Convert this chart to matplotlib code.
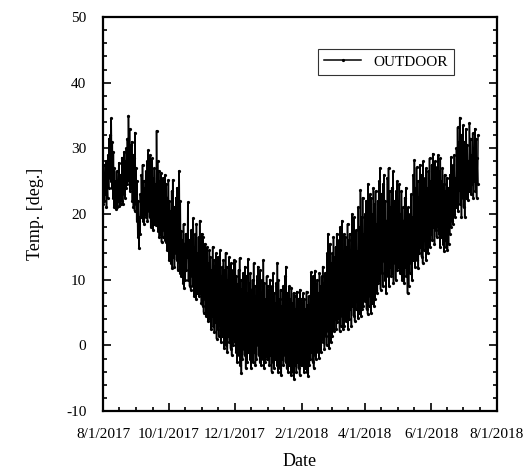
import datetime as dt
import numpy as np
import matplotlib
matplotlib.use("Agg")
import matplotlib.pyplot as plt
import matplotlib.dates as mdates
from matplotlib.ticker import MultipleLocator, FuncFormatter

plt.rcParams["font.family"] = ["Liberation Serif", "DejaVu Serif"]
plt.rcParams["axes.unicode_minus"] = False

start_date = dt.datetime(2017, 8, 1)

# daily highs / lows, month by month
hi_aug = [27.5, 26.0, 28.0, 25.5, 29.0, 31.5, 32.0, 34.6, 31.0, 29.5, 27.0, 25.0, 26.5, 24.5, 27.8, 26.0,
          25.0, 28.6, 27.0, 29.5, 28.0, 30.0, 31.5, 35.0, 33.0, 30.5, 31.0, 29.0, 28.5, 32.4, 27.0]
lo_aug = [21.5, 22.0, 23.0, 21.0, 22.5, 24.0, 25.5, 25.0, 24.0, 22.5, 21.0, 21.5, 20.8, 21.0, 22.0, 21.2,
          21.5, 22.0, 21.6, 23.0, 22.5, 24.0, 24.5, 26.0, 25.0, 23.5, 24.0, 22.0, 21.0, 20.5, 21.5]
hi_sep = [25.0, 22.0, 19.5, 23.0, 26.0, 27.5, 25.0, 24.0, 26.5, 28.0, 29.7, 27.0, 29.0, 26.0, 28.5,
          25.5, 27.0, 24.5, 32.7, 28.0, 26.6, 25.0, 26.2, 24.0, 25.5, 23.0, 26.0, 24.5, 22.5, 25.2]
lo_sep = [19.0, 16.5, 14.9, 17.0, 19.5, 20.0, 19.0, 18.5, 20.0, 19.5, 19.0, 20.5, 19.5, 18.0, 19.0,
          17.5, 18.5, 19.0, 18.3, 20.0, 17.4, 16.5, 17.0, 15.7, 16.5, 17.5, 16.0, 15.8, 14.5, 15.0]
hi_oct = [22.0, 20.5, 23.5, 25.2, 21.0, 19.5, 22.5, 24.0, 20.0, 26.6, 22.0, 17.4, 16.0, 18.5, 15.5, 17.0,
          14.5, 21.8, 16.0, 15.0, 17.5, 16.5, 19.4, 15.0, 17.0, 18.5, 14.0, 16.5, 19.0, 15.5, 17.0]
lo_oct = [13.0, 14.5, 12.5, 11.8, 13.5, 12.0, 14.0, 13.0, 11.5, 12.7, 11.0, 10.5, 12.0, 9.5, 8.8, 10.0,
          11.5, 13.4, 10.0, 9.0, 8.5, 10.5, 9.0, 7.5, 8.8, 7.0, 8.0, 9.5, 7.5, 8.0, 6.5]
hi_nov = [16.5, 14.0, 15.5, 13.0, 15.0, 12.5, 14.5, 13.5, 11.5, 15.0, 13.0, 12.0, 14.0, 11.0, 13.5,
          12.5, 14.5, 10.5, 12.0, 13.0, 11.5, 14.1, 12.0, 10.0, 13.4, 11.0, 12.5, 9.5, 11.5, 13.0]
lo_nov = [6.0, 5.0, 7.0, 4.5, 5.7, 3.7, 5.0, 4.0, 2.5, 4.5, 3.0, 2.0, 3.5, 1.0, 2.5,
          1.5, 3.0, 0.5, 1.5, 2.0, -0.4, 1.0, 0.0, -1.0, 1.5, 0.5, -0.5, -1.5, 0.0, 1.0]
hi_dec = [12.9, 10.5, 9.4, 11.5, 13.3, 10.0, 8.5, 11.0, 9.5, 12.0, 10.5, 8.0, 13.2, 9.5, 11.0, 8.5,
          10.0, 12.5, 9.0, 7.5, 10.5, 12.0, 9.0, 11.5, 8.0, 10.0, 13.0, 9.5, 7.0, 10.5, 9.0]
lo_dec = [0.5, -1.0, -2.5, 0.0, -1.5, -3.0, -4.2, -2.0, -0.5, -1.5, -3.5, -2.5, -1.0, -0.3, -2.0, -3.4,
          -1.3, -2.5, -1.0, -3.0, -2.0, 0.0, -1.5, -2.5, -3.0, -1.0, -2.0, -3.5, -2.5, -1.0, -2.0]
hi_jan = [8.5, 10.0, 7.5, 9.0, 11.0, 8.0, 6.5, 9.5, 12.6, 10.0, 7.0, 8.5, 6.0, 9.0, 7.5, 10.5,
          12.0, 8.0, 6.5, 9.0, 7.0, 8.8, 6.5, 8.0, 7.5, 5.5, 8.2, 7.0, 6.0, 8.5, 7.0]
lo_jan = [-2.0, -3.0, -1.5, -4.0, -2.5, -3.5, -2.0, -1.0, -3.0, -4.0, -2.5, -3.5, -4.5, -2.0, -3.0, -1.5,
          -2.5, -3.5, -4.0, -3.0, -2.0, -4.5, -3.5, -4.0, -5.1, -3.0, -4.0, -2.5, -3.5, -4.5, -3.0]
hi_feb = [6.5, 8.0, 7.0, 5.5, 8.2, 6.2, 7.5, 6.0, 11.1, 9.5, 10.5, 8.5, 11.4, 9.4,
          10.0, 8.0, 11.0, 9.0, 10.5, 12.0, 9.5, 11.0, 10.0, 14.0, 17.0, 13.4, 15.5, 12.5]
lo_feb = [-3.0, -2.0, -4.0, -3.5, -2.5, -4.0, -4.7, -3.0, -2.0, -1.0, -2.5, -3.4, -1.5, -2.0,
          -0.5, -1.0, -1.9, 0.0, -1.0, 1.0, 0.5, -0.5, 1.5, 0.0, 2.2, -0.4, 1.5, 0.5]
hi_mar = [14.0, 16.5, 13.5, 15.0, 17.0, 14.5, 16.0, 18.0, 15.5, 19.0, 14.4, 17.0, 16.5, 15.0, 18.5, 16.0,
          17.0, 14.4, 20.0, 16.5, 19.5, 15.0, 17.5, 14.4, 21.0, 18.0, 23.6, 19.5, 22.5, 17.0, 20.0]
lo_mar = [1.5, 3.0, 2.2, 4.0, 2.5, 3.5, 4.2, 2.2, 3.0, 4.5, 2.5, 3.0, 5.0, 3.7, 4.5, 2.5,
          4.0, 5.5, 3.0, 6.0, 4.5, 3.7, 5.5, 6.8, 4.2, 5.0, 6.5, 4.5, 5.5, 6.0, 7.0]
hi_apr = [22.0, 19.5, 24.6, 21.0, 23.0, 22.5, 20.0, 24.0, 21.5, 23.5, 18.5, 22.0, 25.0, 27.0, 23.0,
          20.5, 24.6, 26.0, 22.0, 19.0, 25.5, 27.0, 23.5, 21.0, 24.0, 26.5, 22.0, 20.0, 23.5, 25.0]
lo_apr = [6.8, 5.5, 4.8, 6.0, 7.5, 5.0, 6.5, 8.0, 6.0, 7.0, 8.5, 7.9, 9.5, 10.0, 8.5,
          11.0, 9.0, 12.9, 10.0, 8.0, 11.5, 10.5, 9.0, 12.0, 10.5, 11.0, 9.5, 12.5, 10.0, 11.5]
hi_may = [22.0, 24.6, 20.0, 23.5, 21.0, 19.0, 22.5, 24.0, 18.5, 21.0, 17.5, 20.0, 23.0, 19.5, 26.0, 28.2,
          24.0, 27.1, 25.0, 22.5, 27.5, 24.5, 26.0, 28.0, 23.5, 25.5, 27.0, 24.0, 26.5, 28.5, 25.0]
lo_may = [12.0, 13.5, 11.0, 12.5, 10.0, 11.5, 9.5, 12.0, 10.5, 7.9, 9.0, 11.0, 12.5, 10.0, 13.0, 14.5,
          12.0, 15.5, 13.0, 11.8, 14.0, 15.0, 13.5, 12.5, 14.5, 16.0, 13.0, 15.0, 14.0, 16.5, 15.0]
hi_jun = [27.5, 29.2, 26.0, 28.0, 25.5, 27.1, 29.0, 26.5, 28.5, 25.0, 27.0, 24.5, 26.0, 23.5, 25.5,
          24.0, 22.5, 26.0, 28.7, 26.3, 27.5, 29.0, 25.5, 30.0, 33.2, 31.0, 34.7, 32.0, 30.5, 33.5]
lo_jun = [17.0, 16.0, 18.0, 15.5, 17.5, 16.5, 18.0, 17.0, 15.0, 16.5, 17.0, 15.5, 14.4, 16.0, 15.0,
          14.5, 15.5, 17.0, 18.0, 19.0, 18.5, 20.0, 19.5, 21.0, 22.0, 20.5, 23.6, 21.5, 19.5, 22.5]
hi_jul = [31.0, 29.5, 33.0, 30.5, 28.0, 33.8, 31.5, 29.0, 32.3, 30.0, 33.0, 31.5, 28.5, 32.0]
lo_jul = [21.0, 19.5, 22.5, 24.0, 22.1, 23.5, 25.1, 23.0, 24.5, 22.5, 25.0, 23.5, 22.5, 24.5]

daily_hi = (hi_aug + hi_sep + hi_oct + hi_nov + hi_dec + hi_jan
            + hi_feb + hi_mar + hi_apr + hi_may + hi_jun + hi_jul)
daily_lo = (lo_aug + lo_sep + lo_oct + lo_nov + lo_dec + lo_jan
            + lo_feb + lo_mar + lo_apr + lo_may + lo_jun + lo_jul)

# low early morning, high mid afternoon
times = []
temps = []
for i, (lo, hi) in enumerate(zip(daily_lo, daily_hi)):
    day = start_date + dt.timedelta(days=i)
    times.append(day + dt.timedelta(hours=5))
    temps.append(lo)
    times.append(day + dt.timedelta(hours=14))
    temps.append(hi)

fig = plt.figure(figsize=(5.23, 4.73), dpi=100)
ax = fig.add_axes([0.197, 0.131, 0.753, 0.833])

ax.plot(times, temps, color="black", lw=1.1, marker="o", ms=1.3, label="OUTDOOR")

ax.set_xlim(dt.datetime(2017, 8, 1), dt.datetime(2018, 8, 1))
ax.set_ylim(-10, 50)

ax.xaxis.set_major_locator(mdates.MonthLocator(bymonth=[2, 4, 6, 8, 10, 12]))
ax.xaxis.set_minor_locator(mdates.DayLocator(bymonthday=[1, 16]))
ax.xaxis.set_major_formatter(FuncFormatter(
    lambda v, pos: "%d/%d/%d" % (mdates.num2date(v).month, mdates.num2date(v).day, mdates.num2date(v).year)))
ax.yaxis.set_major_locator(MultipleLocator(10))
ax.yaxis.set_minor_locator(MultipleLocator(2))

ax.tick_params(which="both", direction="in", top=False, right=True, width=1.2)
ax.tick_params(which="major", length=6, labelsize=11, pad=12)
ax.tick_params(which="minor", length=3)
for s in ax.spines.values():
    s.set_linewidth(1.6)

ax.set_xlabel("Date", fontsize=13, labelpad=9)
ax.set_ylabel("Temp. [deg.]", fontsize=13, labelpad=16)

leg = ax.legend(loc="upper right", bbox_to_anchor=(0.891, 0.919), borderaxespad=0,
                fancybox=False, edgecolor="black", fontsize=11, handlelength=2.4)
leg.get_frame().set_linewidth(0.8)

fig.savefig("out.png", dpi=100)
